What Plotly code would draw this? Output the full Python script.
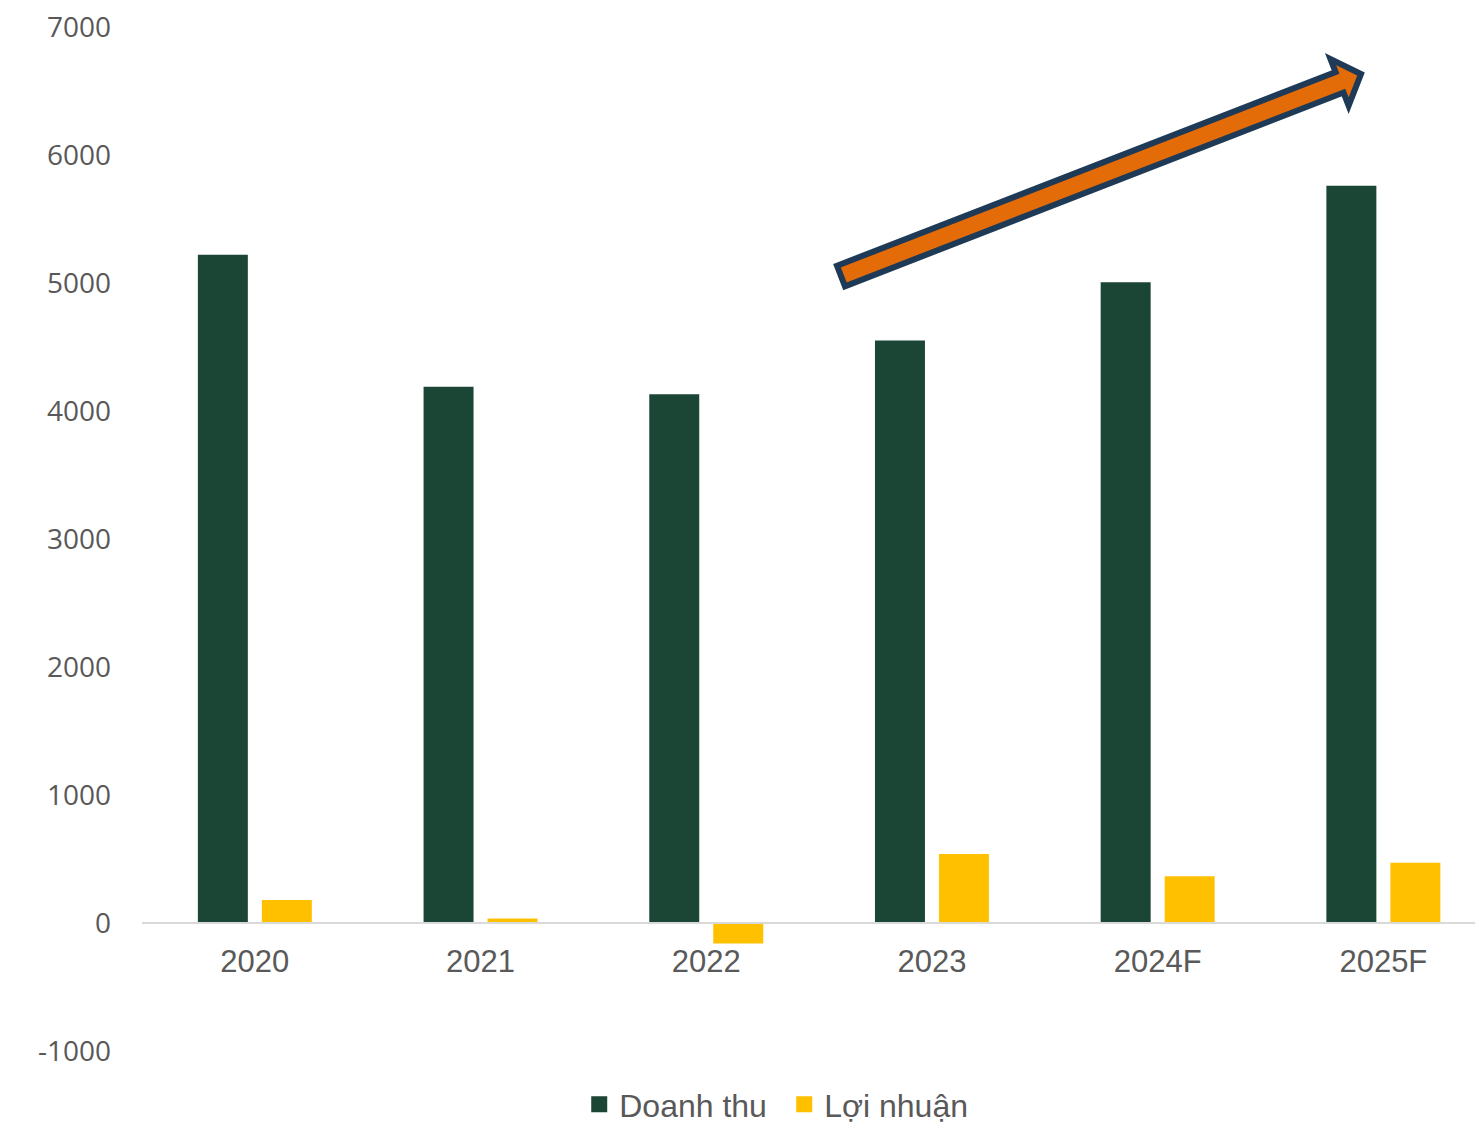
import math
import plotly.graph_objects as go

categories = ["2020", "2021", "2022", "2023", "2024F", "2025F"]
doanh_thu = [5220, 4190, 4130, 4550, 5005, 5760]
loi_nhuan = [180, 35, -160, 540, 365, 470]
y_ticks = [-1000, 0, 1000, 2000, 3000, 4000, 5000, 6000, 7000]
y_tick_text = ["-1000", "0", "1000", "2000", "3000", "4000", "5000", "6000", "7000"]
series_names = ["Doanh thu", "Lợi nhuận"]
series_colors = ["#1B4535", "#FFC000"]

W, H = 1475, 1124
ML, MR, MT, MB = 142, 0, 27, 73
PW, PH = W - ML - MR, H - MT - MB

fig = go.Figure()
for name, vals, col in zip(series_names, [doanh_thu, loi_nhuan], series_colors):
    fig.add_trace(go.Bar(name=name, x=categories, y=vals, showlegend=False,
                         marker=dict(color=col, line=dict(width=0))))
# legend proxies (square swatches)
for name, col in zip(series_names, series_colors):
    fig.add_trace(go.Scatter(name=name, x=[None], y=[None], mode="markers",
                             marker=dict(symbol="square", size=16, color=col),
                             showlegend=True))

# arrow decoration (pixel -> paper)
def pp(px, py):
    return ((px - ML) / PW, (H - MB - py) / PH)

T = (841, 276)
P = (1361, 74)
dx, dy = P[0] - T[0], P[1] - T[1]
L = math.hypot(dx, dy)
u = (dx / L, dy / L)
n = (u[1], -u[0])
w, hw, hl = 11, 25, 23
B = (P[0] - hl * u[0], P[1] - hl * u[1])
pts = [
    (T[0] + w * n[0], T[1] + w * n[1]),
    (B[0] + w * n[0], B[1] + w * n[1]),
    (B[0] + hw * n[0], B[1] + hw * n[1]),
    P,
    (B[0] - hw * n[0], B[1] - hw * n[1]),
    (B[0] - w * n[0], B[1] - w * n[1]),
    (T[0] - w * n[0], T[1] - w * n[1]),
]
path = "M " + " L ".join("%.5f,%.5f" % pp(*p) for p in pts) + " Z"
fig.add_shape(type="path", xref="paper", yref="paper", path=path,
              fillcolor="#E36C09", line=dict(color="#1F3A56", width=6),
              layer="above")

fig.update_layout(
    width=W, height=H,
    margin=dict(l=ML, r=MR, t=MT, b=MB, autoexpand=False),
    paper_bgcolor="white", plot_bgcolor="white",
    barmode="group", bargap=0.433, bargroupgap=0.219,
    showlegend=True,
    legend=dict(orientation="h", x=0.328, xanchor="left", y=-0.0254, yanchor="top",
                font=dict(family="Liberation Sans, Arial, sans-serif", size=32, color="#595959"),
                itemwidth=30, traceorder="normal", tracegroupgap=0,
                entrywidth=160, entrywidthmode="pixels"),
    xaxis=dict(range=[-0.5, 5.406], showgrid=False, zeroline=False,
               anchor="free", position=0.125, automargin=False,
               showline=True, linecolor="#D9D9D9", linewidth=2,
               ticks="", ticklabelstandoff=11,
               tickfont=dict(family="Liberation Sans, Arial, sans-serif",
                             size=31, color="#595959")),
    yaxis=dict(range=[-1000, 7000], tickvals=y_ticks, ticktext=y_tick_text,
               showgrid=False, zeroline=False, automargin=False,
               showline=False, ticks="", ticklabelstandoff=30,
               tickfont=dict(family="Open Sans, Noto Sans, sans-serif", size=28, color="#595959")),
)

fig.write_html("out.html")
